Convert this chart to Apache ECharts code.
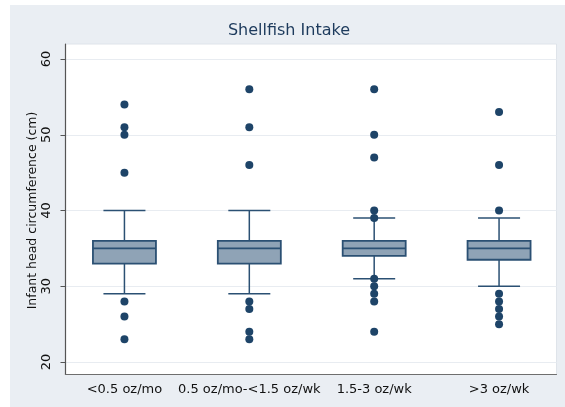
<!DOCTYPE html>
<html>
<head>
<meta charset="utf-8">
<script src="https://cdn.jsdelivr.net/npm/echarts@6/dist/echarts.min.js"></script>
<style>
  html, body { margin: 0; padding: 0; background: #ffffff; }
  #bg { position: absolute; left: 10px; top: 5px; width: 555px; height: 402px; background: #eaeef3; }
  #chart { position: absolute; left: 0; top: 0; width: 565px; height: 407px; }
</style>
</head>
<body>
<div id="bg"></div>
<div id="chart"></div>
<script>
const categories = ['<0.5 oz/mo', '0.5 oz/mo-<1.5 oz/wk', '1.5-3 oz/wk', '>3 oz/wk'];
const positions = [1, 2, 3, 4];
const lowerWhisker = [29, 29, 31, 30];
const q1 = [33, 33, 34, 33.5];
const median = [35, 35, 35, 35];
const q3 = [36, 36, 36, 36];
const upperWhisker = [40, 40, 39, 39];
const outliers1 = [54, 51, 50, 45, 28, 26, 23];
const outliers2 = [56, 51, 46, 28, 27, 24, 23];
const outliers3 = [56, 50, 47, 40, 39, 31, 30, 29, 28, 24];
const outliers4 = [53, 46, 40, 29, 28, 27, 26, 25];
const yMin = 20, yMax = 60, yStep = 10;

const outlierGroups = [outliers1, outliers2, outliers3, outliers4];
const boxData = positions.map((p, i) => [p, lowerWhisker[i], q1[i], median[i], q3[i], upperWhisker[i]]);
const outlierData = [];
outlierGroups.forEach((g, i) => g.forEach(v => outlierData.push([positions[i], v])));

const lineCol = '#2b5073';
const chart = echarts.init(document.getElementById('chart'), null, { renderer: 'canvas' });
const font = 'DejaVu Sans';
const xMin = 0.528, xMax = 4.46;

chart.setOption({
  animation: false,
  backgroundColor: 'transparent',
  title: {
    text: 'Shellfish Intake',
    left: 284,
    top: 18,
    textAlign: 'center',
    textStyle: { fontFamily: font, fontSize: 16, fontWeight: 'normal', color: '#1d3a5c' }
  },
  grid: [
    { left: 65.5, right: 8.5, top: 44, bottom: 32.5,
      show: true, backgroundColor: '#ffffff', borderColor: '#dfe4ea', borderWidth: 1 },
    { left: 65.5, right: 8.5, top: 59, bottom: 45 }
  ],
  xAxis: [
    {
      gridIndex: 0,
      type: 'value',
      min: xMin, max: xMax,
      axisLine: { show: true, onZero: false, lineStyle: { color: '#6e6e6e', width: 1.2 } },
      axisTick: { show: false },
      splitLine: { show: false },
      axisLabel: {
        customValues: positions,
        formatter: v => categories[Math.round(v) - 1] || '',
        fontFamily: font, fontSize: 13, color: '#111111', margin: 9
      }
    },
    {
      gridIndex: 1,
      type: 'value',
      min: xMin, max: xMax,
      show: false
    }
  ],
  yAxis: [
    {
      gridIndex: 0,
      type: 'value',
      min: 0, max: 1,
      axisLine: { show: true, onZero: false, lineStyle: { color: '#555555', width: 1.2 } },
      axisTick: { show: false },
      axisLabel: { show: false },
      splitLine: { show: false }
    },
    {
      gridIndex: 1,
      type: 'value',
      min: yMin, max: yMax, interval: yStep,
      name: 'Infant head circumference (cm)',
      nameLocation: 'middle',
      nameGap: 26,
      nameMoveOverlap: false,
      nameTextStyle: { fontFamily: font, fontSize: 12.5, color: '#111111' },
      axisLine: { show: false },
      axisTick: { show: true, length: 5, lineStyle: { color: '#555555' } },
      splitLine: { show: true, lineStyle: { color: '#e8ecf1', width: 1.2 } },
      axisLabel: {
        rotate: 90,
        fontFamily: font, fontSize: 13, color: '#111111', margin: 12
      }
    }
  ],
  series: [
    {
      type: 'custom',
      xAxisIndex: 1, yAxisIndex: 1,
      data: boxData,
      encode: { x: 0, y: [1, 2, 3, 4, 5] },
      renderItem: function (params, api) {
        const x = api.value(0);
        const pLow = api.coord([x, api.value(1)]);
        const pQ1 = api.coord([x, api.value(2)]);
        const pMed = api.coord([x, api.value(3)]);
        const pQ3 = api.coord([x, api.value(4)]);
        const pHigh = api.coord([x, api.value(5)]);
        const cx = pLow[0];
        const bh = 31.5, ch = 21;
        const ls = { stroke: lineCol, lineWidth: 1.5 };
        return {
          type: 'group',
          children: [
            { type: 'line', shape: { x1: cx, y1: pLow[1], x2: cx, y2: pQ1[1] }, style: ls },
            { type: 'line', shape: { x1: cx, y1: pQ3[1], x2: cx, y2: pHigh[1] }, style: ls },
            { type: 'line', shape: { x1: cx - ch, y1: pLow[1], x2: cx + ch, y2: pLow[1] }, style: ls },
            { type: 'line', shape: { x1: cx - ch, y1: pHigh[1], x2: cx + ch, y2: pHigh[1] }, style: ls },
            { type: 'rect', shape: { x: cx - bh, y: pQ3[1], width: 2 * bh, height: pQ1[1] - pQ3[1] },
              style: { fill: '#8fa3b6', stroke: lineCol, lineWidth: 1.8 } },
            { type: 'line', shape: { x1: cx - bh, y1: pMed[1], x2: cx + bh, y2: pMed[1] },
              style: { stroke: lineCol, lineWidth: 1.8 } }
          ]
        };
      },
      z: 2
    },
    {
      type: 'scatter',
      xAxisIndex: 1, yAxisIndex: 1,
      data: outlierData,
      symbol: 'circle',
      symbolSize: 8,
      itemStyle: { color: '#1e4468', opacity: 1 },
      z: 3
    }
  ]
});
</script>
</body>
</html>
